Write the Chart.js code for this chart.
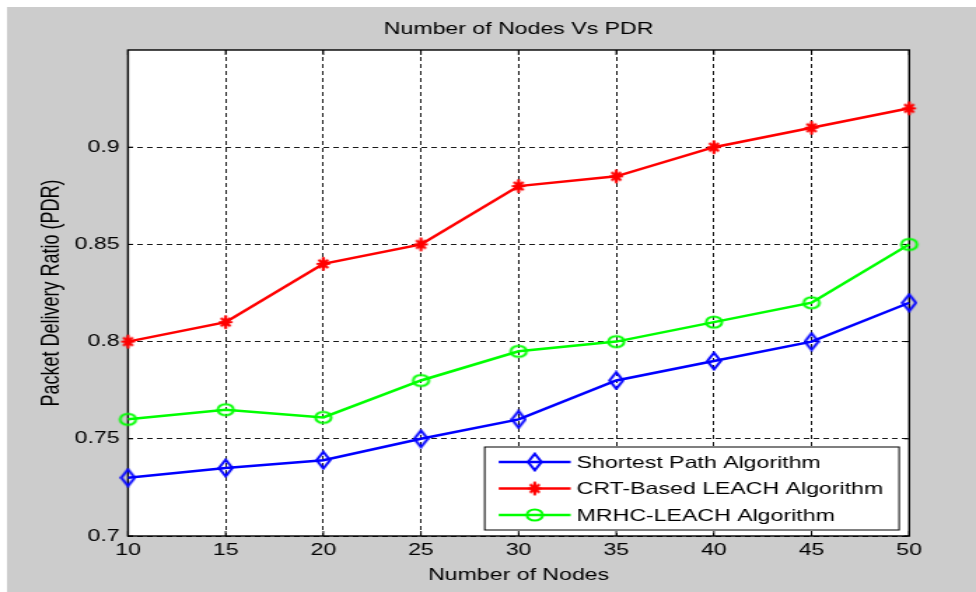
<!DOCTYPE html>
<html>
<head>
<meta charset="utf-8">
<script src="https://cdn.jsdelivr.net/npm/chart.js@4.4.1/dist/chart.umd.min.js"></script>
<style>
html,body{margin:0;padding:0;background:#fff;overflow:hidden}
#c{display:block}
</style>
</head>
<body>
<canvas id="c" width="697" height="592" style="width:976px;height:592px"></canvas>
<script>
// ---- data ----
const nodes = [10, 15, 20, 25, 30, 35, 40, 45, 50];
const shortestPath = [0.73, 0.735, 0.739, 0.75, 0.76, 0.78, 0.79, 0.80, 0.82];
const crtLeach = [0.80, 0.81, 0.84, 0.85, 0.88, 0.885, 0.90, 0.91, 0.92];
const mrhcLeach = [0.76, 0.765, 0.761, 0.78, 0.795, 0.80, 0.81, 0.82, 0.85];
const seriesNames = ['Shortest Path Algorithm', 'CRT-Based LEACH Algorithm', 'MRHC-LEACH Algorithm'];
const xTickLabels = ['10', '15', '20', '25', '30', '35', '40', '45', '50'];
const yTicks = [0.7, 0.75, 0.8, 0.85, 0.9];
const yTickLabels = ['0.7', '0.75', '0.8', '0.85', '0.9'];
const titleText = 'Number of Nodes Vs PDR';
const xTitleText = 'Number of Nodes';
const yTitleText = 'Packet Delivery Ratio (PDR)';

// ---- marker images ----
function makeDiamond(color) {
  const c = document.createElement('canvas'); c.width = 12; c.height = 20;
  const g = c.getContext('2d');
  g.strokeStyle = color; g.lineWidth = 2;
  g.beginPath(); g.moveTo(6, 1.7); g.lineTo(10.8, 10); g.lineTo(6, 18.3); g.lineTo(1.2, 10); g.closePath(); g.stroke();
  return c;
}
function makeStar(color) {
  const c = document.createElement('canvas'); c.width = 12; c.height = 16;
  const g = c.getContext('2d');
  g.strokeStyle = color; g.lineWidth = 2.2; g.lineCap = 'round';
  g.beginPath();
  g.moveTo(6, 2); g.lineTo(6, 14);
  g.moveTo(2, 8); g.lineTo(10, 8);
  g.moveTo(3.2, 4.5); g.lineTo(8.8, 11.5);
  g.moveTo(8.8, 4.5); g.lineTo(3.2, 11.5);
  g.stroke();
  g.fillStyle = color; g.beginPath(); g.arc(6, 8, 2.6, 0, Math.PI * 2); g.fill();
  return c;
}
function makeCircle(color) {
  const c = document.createElement('canvas'); c.width = 16; c.height = 16;
  const g = c.getContext('2d');
  g.strokeStyle = color; g.lineWidth = 2;
  g.beginPath(); g.arc(8, 8, 5.6, 0, Math.PI * 2); g.stroke();
  return c;
}
const blue = '#0000ff', red = '#ff0000', green = '#00ff00';
const markers = [makeDiamond(blue), makeStar(red), makeCircle(green)];
const colors = [blue, red, green];
const seriesValues = [shortestPath, crtLeach, mrhcLeach];

const FONT = '"Liberation Sans", Arial, Helvetica, sans-serif';
Chart.defaults.font.family = FONT;
Chart.defaults.color = '#000';

// ---- plugins ----
const bgFramePlugin = {
  id: 'bgFrame',
  beforeDraw(chart) {
    const {ctx, chartArea: a, width, height} = chart;
    ctx.save();
    ctx.fillStyle = '#ffffff';
    ctx.fillRect(0, 0, width, height);
    ctx.fillStyle = '#cccccc';
    ctx.fillRect(5, 7, width - 5, height - 7);
    ctx.fillStyle = '#ffffff';
    ctx.fillRect(a.left, a.top, a.right - a.left, a.bottom - a.top);
    ctx.restore();
  },
  beforeDatasetsDraw(chart) {
    const {ctx, chartArea: a, scales} = chart;
    const x = scales.x, y = scales.y;
    ctx.save();
    ctx.strokeStyle = '#000';
    ctx.lineWidth = 1;
    ctx.beginPath();
    x.ticks.forEach(t => {
      const px = x.getPixelForValue(t.value);
      ctx.moveTo(px, a.top); ctx.lineTo(px, a.top + 5);
      ctx.moveTo(px, a.bottom); ctx.lineTo(px, a.bottom - 5);
    });
    y.ticks.forEach(t => {
      const py = y.getPixelForValue(t.value);
      ctx.moveTo(a.left, py); ctx.lineTo(a.left + 3.6, py);
      ctx.moveTo(a.right, py); ctx.lineTo(a.right - 3.6, py);
    });
    ctx.stroke();
    ctx.lineWidth = 1.4;
    ctx.strokeRect(a.left, a.top, a.right - a.left, a.bottom - a.top);
    ctx.restore();
  }
};

const legendPlugin = {
  id: 'matlabLegend',
  afterDatasetsDraw(chart) {
    const {ctx, chartArea: a} = chart;
    ctx.save();
    ctx.font = '16.5px ' + FONT;
    const maxW = Math.max(...seriesNames.map(s => ctx.measureText(s).width));
    const w = 65.7 + maxW + 11.4;
    const h = 83;
    const right = a.right - 7.2, bottom = a.bottom - 6;
    const left = right - w, top = bottom - h;
    ctx.fillStyle = '#fff';
    ctx.fillRect(left, top, w, h);
    ctx.strokeStyle = '#000';
    ctx.lineWidth = 1;
    ctx.strokeRect(left, top, w, h);
    ctx.textBaseline = 'middle';
    ctx.textAlign = 'left';
    seriesNames.forEach((name, i) => {
      const cy = top + 15 + i * 26.5;
      ctx.strokeStyle = colors[i];
      ctx.lineWidth = 2.5;
      ctx.beginPath(); ctx.moveTo(left + 10, cy); ctx.lineTo(left + 61.4, cy); ctx.stroke();
      const m = markers[i];
      ctx.drawImage(m, left + 35.7 - m.width / 2, cy - m.height / 2);
      ctx.fillStyle = '#000';
      ctx.fillText(name, left + 65.7, cy + 1);
    });
    ctx.restore();
  }
};

const datasets = seriesNames.map((name, i) => ({
  label: name,
  data: nodes.map((n, k) => ({x: n, y: seriesValues[i][k]})),
  borderColor: colors[i],
  backgroundColor: colors[i],
  borderWidth: 2.5,
  pointStyle: markers[i],
  pointRadius: 6,
  tension: 0,
  fill: false,
  clip: false
}));

new Chart(document.getElementById('c'), {
  type: 'line',
  data: {datasets},
  plugins: [bgFramePlugin, legendPlugin],
  options: {
    responsive: false,
    animation: false,
    events: [],
    layout: {padding: {left: 0, right: 47.7, top: 0, bottom: 0}},
    plugins: {
      legend: {display: false},
      tooltip: {enabled: false},
      title: {
        display: true,
        text: titleText,
        fullSize: false,
        color: '#000',
        font: {size: 16.5, weight: 'normal'},
        padding: {top: 20, bottom: 10.2}
      }
    },
    scales: {
      x: {
        type: 'linear',
        min: nodes[0],
        max: nodes[nodes.length - 1],
        afterBuildTicks(axis) { axis.ticks = nodes.map(v => ({value: v})); },
        afterFit(axis) { axis.height = 56; },
        ticks: {
          callback: (v, i) => xTickLabels[i],
          font: {size: 16.5},
          color: '#000',
          padding: 5,
          maxRotation: 0,
          autoSkip: false
        },
        grid: {color: '#1a1a1a', lineWidth: 1, drawTicks: false},
        border: {display: false, dash: [4, 3]},
        title: {display: true, text: xTitleText, font: {size: 16.5}, color: '#000', padding: {top: 0, bottom: 7}}
      },
      y: {
        type: 'linear',
        min: 0.7,
        max: 0.95,
        afterBuildTicks(axis) { axis.ticks = yTicks.map(v => ({value: v})); },
        afterFit(axis) { axis.width = 91.4; },
        ticks: {
          callback: (v, i) => yTickLabels[i],
          font: {size: 16.5},
          color: '#000',
          padding: 6,
          autoSkip: false
        },
        grid: {color: '#1a1a1a', lineWidth: 1, drawTicks: false},
        border: {display: false, dash: [4, 3]},
        title: {display: true, text: yTitleText, font: {size: 18}, color: '#000', padding: {top: 26.3, bottom: 0}}
      }
    }
  }
});
</script>
</body>
</html>
